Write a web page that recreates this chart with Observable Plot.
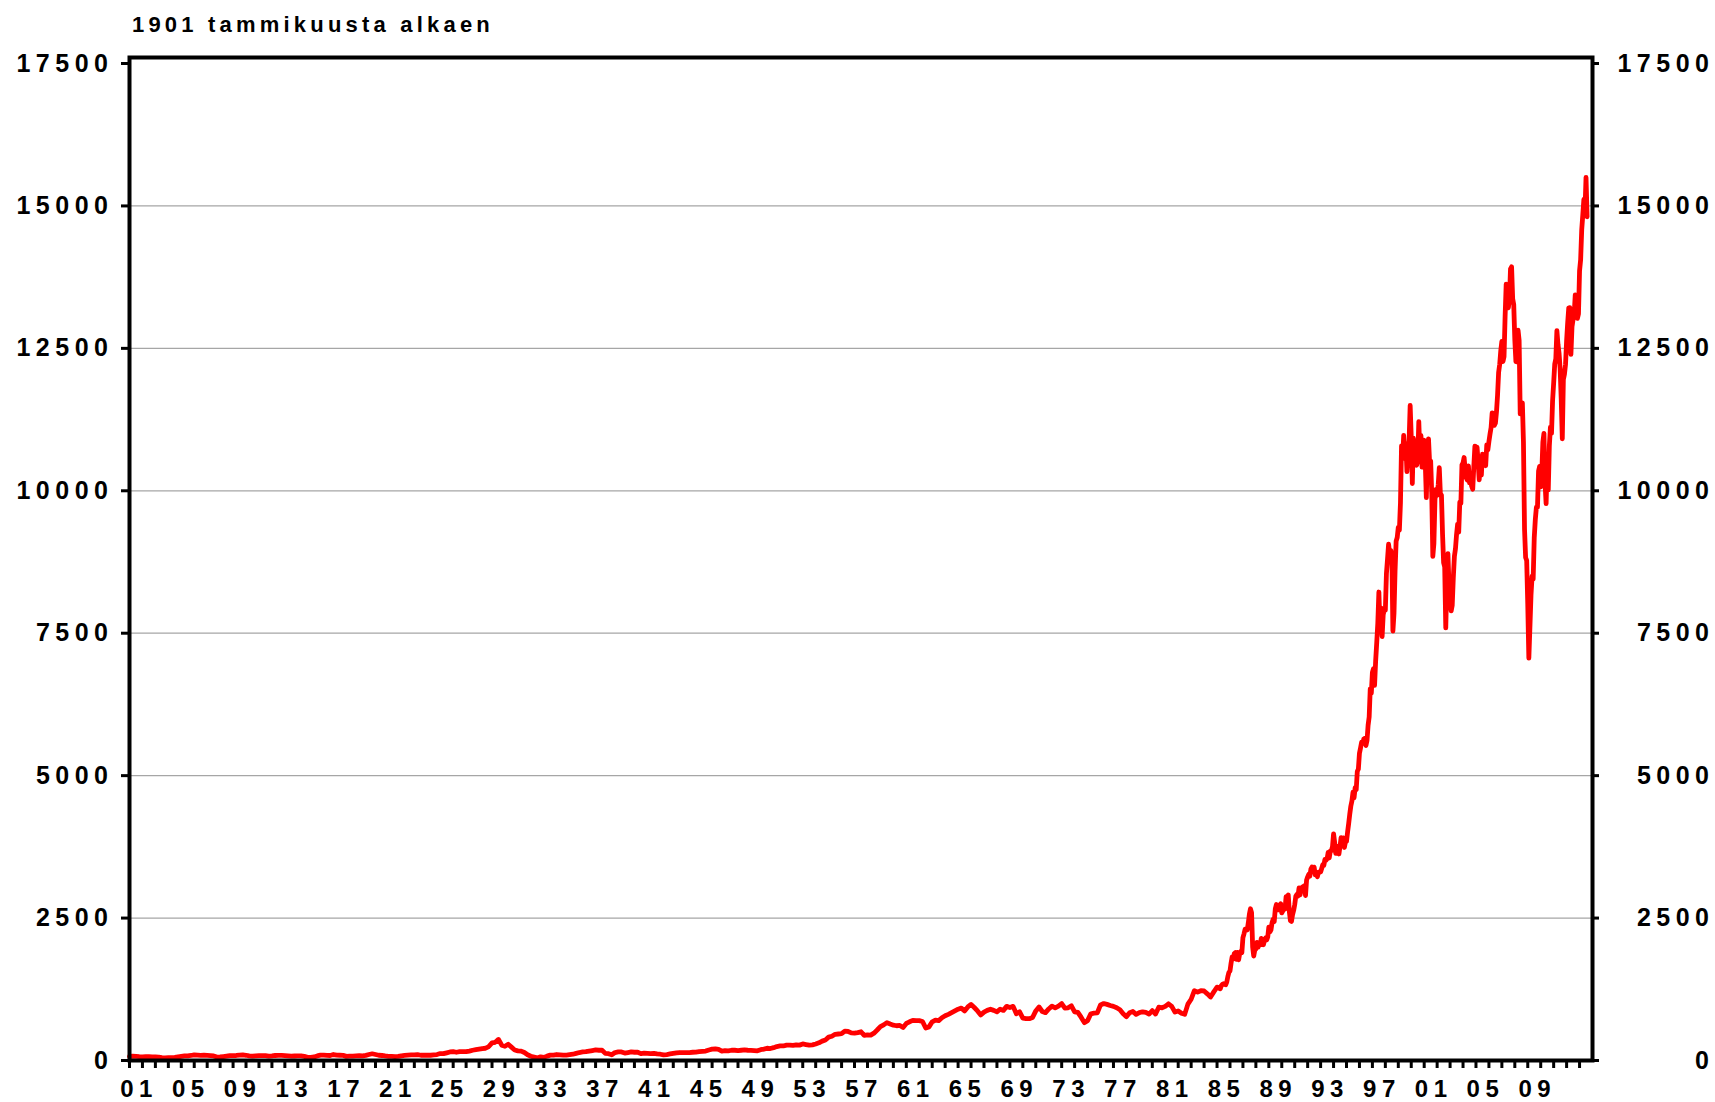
<!DOCTYPE html>
<html><head><meta charset="utf-8">
<script src="https://cdn.jsdelivr.net/npm/d3@7"></script>
<script src="https://cdn.jsdelivr.net/npm/@observablehq/plot@0.6"></script>
<style>
html,body{margin:0;padding:0;background:#fff;}
#wrap{position:relative;width:1715px;height:1102px;overflow:hidden;}
#title{position:absolute;z-index:2;left:132px;top:12px;font:bold 22px "Liberation Sans",Arial,sans-serif;letter-spacing:4.2px;white-space:nowrap;color:#000;}
#chart svg text{letter-spacing:5.5px;}
</style></head><body>
<div id="wrap"><div id="chart"></div><div id="title">1901 tammikuusta alkaen</div></div>
<script>
// Dow Jones, quarterly readings 1901–1984 (Jan, Apr, Jul, Oct)
const quarterlyStartYear = 1901;
const dowQuarterly = [
 70,75,72,67, 65,66,67,64, 64,60,50,45, 48,50,55,65, 72,80,80,88,
 100,95,90,94, 90,85,80,60, 62,70,78,85, 86,88,95,99, 92,82,78,82,
 85,84,86,78, 82,88,90,90, 85,80,76,79, 82,80,72,55, 56,62,80,95,
 95,90,88,105, 95,92,90,72, 78,78,81,85, 82,90,105,118, 105,92,88,80,
 74,72,68,72, 82,90,95,98, 97,102,92,92, 95,92,98,105, 122,120,135,150,
 155,145,155,155, 155,165,180,190, 200,210,215,245, 310,320,370,270, 250,285,235,185,
 170,165,140,100, 75,60,45,65, 55,77,95,95, 105,100,95,95, 102,110,125,140,
 150,155,165,175, 185,180,180,125, 120,100,140,150, 150,130,140,150, 145,145,120,130,
 125,120,125,115, 110,98,105,115, 125,135,140,138, 138,140,145,147, 155,160,165,185,
 200,205,195,165, 175,170,180,180, 175,180,185,180, 178,175,170,190, 200,215,210,225,
 245,255,255,270, 270,265,275,270, 290,280,270,275, 290,310,340,360, 410,425,460,465,
 470,515,510,485, 480,490,505,440, 450,445,480,535, 595,625,665,640, 620,610,615,580,
 650,680,705,700, 700,685,570,590, 680,710,700,750, 785,810,840,870, 900,920,870,940,
 985,930,870,800, 850,880,900,880, 855,900,880,950, 930,950,820,855, 745,736,734,755,
 870,940,860,840, 905,955,925,955, 1000,920,925,960, 855,845,760,665, 700,820,830,835,
 975,1000,985,965, 950,925,890,820, 770,840,860,810, 840,855,845,815, 875,815,935,925,
 950,995,950,850, 870,830,810,990, 1075,1225,1200,1225, 1220,1170,1115,1205
];
// Dow Jones, monthly readings Jan 1985 – Aug 2013
const monthlyStartYear = 1985;
const dowMonthly = [
 1287,1284,1267,1258,1315,1336,1348,1334,1329,1375,1472,1547,
 1571,1709,1819,1784,1877,1893,1775,1898,1768,1878,1914,1896,
 2158,2224,2305,2286,2292,2419,2572,2663,2596,1994,1834,1939,
 1958,2072,1988,2032,2031,2142,2129,2032,2113,2149,2115,2169,
 2342,2258,2294,2419,2480,2440,2661,2737,2693,2645,2706,2753,
 2591,2627,2707,2657,2877,2881,2905,2615,2453,2442,2560,2634,
 2736,2882,2914,2888,3028,2907,3025,3044,3017,3069,2895,3169,
 3223,3268,3236,3359,3397,3319,3394,3257,3272,3226,3305,3301,
 3310,3371,3436,3428,3528,3516,3540,3651,3555,3681,3684,3754,
 3978,3832,3636,3682,3758,3625,3765,3913,3843,3908,3739,3834,
 3844,4011,4158,4321,4465,4556,4709,4611,4789,4756,5075,5117,
 5395,5486,5588,5569,5643,5655,5529,5616,5882,6029,6522,6448,
 6813,6878,6584,7009,7331,7673,8223,7622,7945,7442,7823,7908,
 7907,8546,8800,9063,8900,8952,8883,7539,7843,8592,9117,9181,
 9359,9307,9786,10789,10560,10971,10655,10829,10337,10730,10878,11497,
 10941,10128,10922,10734,10522,10448,10522,11215,10651,10971,10415,10788,
 10887,10495,9879,10735,10912,10502,10523,9950,8848,9075,9852,10022,
 9920,10106,10404,9946,9925,9243,8737,8664,7592,8397,8896,8342,
 8054,7891,7992,8480,8850,8985,9234,9416,9275,9801,9782,10454,
 10488,10584,10358,10226,10188,10435,10140,10174,10080,10027,10428,10783,
 10490,10766,10504,10193,10467,10275,10641,10482,10569,10440,10806,10718,
 10865,10993,11109,11367,11168,11150,11186,11381,11679,12081,12222,12463,
 12622,12269,12354,13063,13628,13409,13212,13358,13896,13930,13372,13265,
 12650,12266,12263,12820,12638,11350,11378,11544,10851,9325,8829,8776,
 8001,7063,7609,8168,8500,8447,9172,9496,9712,9713,10345,10428,
 10067,10325,10857,11009,10137,9774,10466,10015,10788,11118,11006,11578,
 11892,12226,12320,12811,12570,12414,12143,11614,10913,11955,12046,12218,
 12633,12952,13212,13214,12393,12880,13009,13091,13437,13096,13026,13104,
 13861,14054,14579,14840,15116,14910,15500,14810
];
const yTicks = [0,2500,5000,7500,10000,12500,15000,17500];
const gridLevels = [2500,5000,7500,10000,12500,15000];
const labelYears = [1901,1905,1909,1913,1917,1921,1925,1929,1933,1937,1941,1945,1949,1953,1957,1961,1965,1969,1973,1977,1981,1985,1989,1993,1997,2001,2005,2009];
const xDomain = [1901, 2014];

const data = [];
dowQuarterly.forEach((v, i) => data.push({t: quarterlyStartYear + i / 4, v}));
dowMonthly.forEach((v, i) => data.push({t: monthlyStartYear + i / 12, v}));
const yearTicks = d3.range(xDomain[0], xDomain[1]);

const chart = Plot.plot({
  width: 1715, height: 1102,
  marginLeft: 129, marginRight: 123, marginTop: 57, marginBottom: 42,
  insetTop: 6,
  x: {domain: xDomain},
  y: {domain: [0, 17500]},
  style: {fontFamily: '"Liberation Sans", Arial, sans-serif', fontWeight: "bold", color: "#000", background: "#fff", overflow: "visible"},
  marks: [
    Plot.ruleY(gridLevels, {stroke: "#a6a6a6", strokeWidth: 1.3}),
    Plot.line(data, {x: "t", y: "v", stroke: "#ff0000", strokeWidth: 4.8, strokeLinejoin: "round", strokeLinecap: "round"}),
    Plot.axisY({anchor: "left", ticks: yTicks, tickSize: 8, tickPadding: 8, strokeWidth: 3, fontSize: 25, fontWeight: "bold", tickFormat: d => String(d), label: null}),
    Plot.axisY({anchor: "right", ticks: yTicks, tickSize: 6, tickPadding: 116, textAnchor: "end", strokeWidth: 3, fontSize: 25, fontWeight: "bold", tickFormat: d => String(d), label: null}),
    Plot.axisX({ticks: yearTicks, tickSize: 8, strokeWidth: 3, tickFormat: () => "", label: null}),
    Plot.axisX({ticks: labelYears.map(y => y + 0.5), tickSize: 0, tickPadding: 19, dx: 3, fontSize: 24, fontWeight: "bold", tickFormat: d => String(Math.floor(d) % 100).padStart(2, "0"), label: null}),
    Plot.frame({stroke: "#000", strokeWidth: 4})
  ]
});
document.getElementById("chart").appendChild(chart);
</script></body></html>
